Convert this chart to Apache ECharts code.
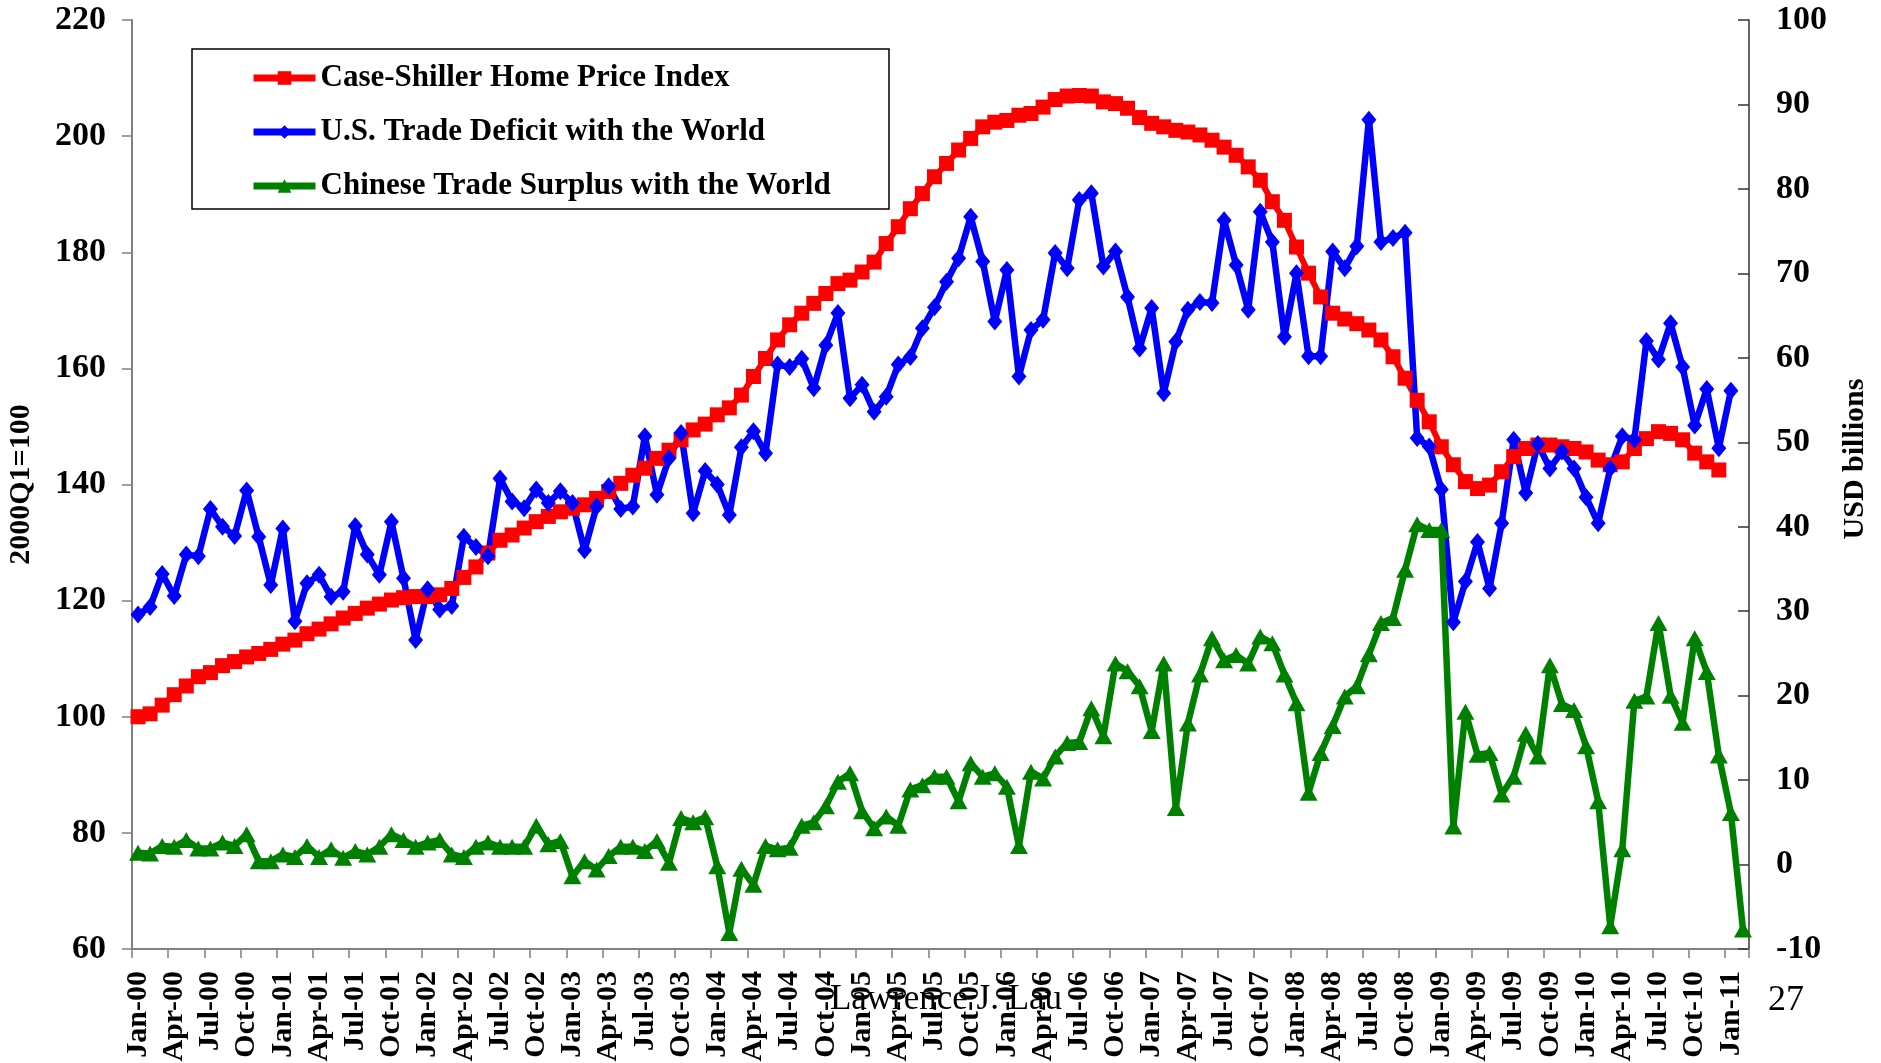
<!DOCTYPE html>
<html>
<head>
<meta charset="utf-8">
<title>Case-Shiller vs Trade Balances</title>
<script src="https://cdn.jsdelivr.net/npm/echarts@6/dist/echarts.min.js"></script>
<style>
  html, body { margin: 0; padding: 0; background: #fff; }
  #chart { width: 1881px; height: 1063px; }
</style>
</head>
<body>
<div id="chart"></div>
<script>
// monthly categories, Jan-00 .. Feb-11
var categories = [
  'Jan-00','Feb-00','Mar-00','Apr-00','May-00','Jun-00','Jul-00','Aug-00','Sep-00','Oct-00','Nov-00','Dec-00',
  'Jan-01','Feb-01','Mar-01','Apr-01','May-01','Jun-01','Jul-01','Aug-01','Sep-01','Oct-01','Nov-01','Dec-01',
  'Jan-02','Feb-02','Mar-02','Apr-02','May-02','Jun-02','Jul-02','Aug-02','Sep-02','Oct-02','Nov-02','Dec-02',
  'Jan-03','Feb-03','Mar-03','Apr-03','May-03','Jun-03','Jul-03','Aug-03','Sep-03','Oct-03','Nov-03','Dec-03',
  'Jan-04','Feb-04','Mar-04','Apr-04','May-04','Jun-04','Jul-04','Aug-04','Sep-04','Oct-04','Nov-04','Dec-04',
  'Jan-05','Feb-05','Mar-05','Apr-05','May-05','Jun-05','Jul-05','Aug-05','Sep-05','Oct-05','Nov-05','Dec-05',
  'Jan-06','Feb-06','Mar-06','Apr-06','May-06','Jun-06','Jul-06','Aug-06','Sep-06','Oct-06','Nov-06','Dec-06',
  'Jan-07','Feb-07','Mar-07','Apr-07','May-07','Jun-07','Jul-07','Aug-07','Sep-07','Oct-07','Nov-07','Dec-07',
  'Jan-08','Feb-08','Mar-08','Apr-08','May-08','Jun-08','Jul-08','Aug-08','Sep-08','Oct-08','Nov-08','Dec-08',
  'Jan-09','Feb-09','Mar-09','Apr-09','May-09','Jun-09','Jul-09','Aug-09','Sep-09','Oct-09','Nov-09','Dec-09',
  'Jan-10','Feb-10','Mar-10','Apr-10','May-10','Jun-10','Jul-10','Aug-10','Sep-10','Oct-10','Nov-10','Dec-10',
  'Jan-11','Feb-11'
];

// Case-Shiller home price index, 2000Q1=100 (left axis), Jan-00 .. Dec-10
var caseShiller = [
  100.0, 100.5, 102.0, 103.8, 105.3, 106.9, 107.6, 108.8, 109.5, 110.3, 110.9, 111.6,
  112.5, 113.2, 114.3, 115.1, 116.0, 117.0, 117.8, 118.7, 119.4, 120.1, 120.5, 120.7,
  120.7, 121.0, 122.1, 124.0, 125.8, 128.2, 130.4, 131.3, 132.5, 133.6, 134.5, 135.3,
  135.9, 136.5, 137.6, 138.8, 140.2, 141.6, 142.8, 144.5, 145.9, 147.7, 149.4, 150.4,
  152.0, 153.2, 155.4, 158.6, 161.7, 164.9, 167.5, 169.5, 171.2, 172.9, 174.6, 175.2,
  176.6, 178.3, 181.5, 184.4, 187.5, 190.1, 193.0, 195.3, 197.6, 199.6, 201.6, 202.4,
  202.7, 203.6, 203.9, 205.0, 206.3, 206.9, 207.0, 206.9, 205.9, 205.6, 204.8, 203.2,
  202.2, 201.6, 201.0, 200.7, 200.2, 199.3, 198.1, 196.7, 194.7, 192.4, 188.7, 185.5,
  180.9, 176.4, 172.3, 169.5, 168.5, 167.7, 166.6, 164.9, 162.0, 158.3, 154.5, 150.8,
  146.5, 143.4, 140.5, 139.3, 139.9, 142.2, 144.8, 146.2, 146.8, 146.8, 146.5, 146.2,
  145.6, 144.2, 143.4, 143.9, 146.2, 147.9, 149.1, 148.8, 147.7, 145.4, 143.9, 142.5
];

// U.S. trade deficit with the world, USD billions (right axis), Jan-00 .. Jan-11
var usDeficit = [
  29.6, 30.5, 34.4, 31.8, 36.7, 36.5, 42.1, 40.0, 38.9, 44.3, 38.8, 33.1,
  39.8, 28.8, 33.3, 34.3, 31.7, 32.3, 40.1, 36.7, 34.3, 40.6, 33.9, 26.6,
  32.6, 30.2, 30.6, 38.8, 37.6, 36.5, 45.7, 43.0, 42.2, 44.4, 42.8, 44.2,
  42.8, 37.2, 42.4, 44.8, 42.1, 42.4, 50.7, 43.8, 48.1, 51.1, 41.6, 46.6,
  45.0, 41.4, 49.4, 51.3, 48.7, 59.2, 58.9, 59.9, 56.4, 61.5, 65.3, 55.2,
  56.8, 53.6, 55.4, 59.2, 60.1, 63.5, 66.0, 69.0, 71.8, 76.7, 71.4, 64.3,
  70.4, 57.8, 63.3, 64.5, 72.4, 70.6, 78.7, 79.5, 70.8, 72.6, 67.2, 61.1,
  65.9, 55.8, 61.9, 65.7, 66.6, 66.5, 76.3, 71.0, 65.7, 77.3, 73.7, 62.5,
  70.0, 60.2, 60.2, 72.6, 70.6, 73.2, 88.2, 73.7, 74.2, 74.8, 50.5, 49.5,
  44.4, 28.7, 33.5, 38.2, 32.7, 40.4, 50.3, 44.0, 49.8, 46.9, 48.9, 46.9,
  43.5, 40.4, 46.9, 50.7, 50.3, 62.0, 59.8, 64.1, 58.9, 52.0, 56.3, 49.3,
  56.1
];

// Chinese trade surplus with the world, USD billions (right axis), Jan-00 .. Feb-11
var chinaSurplus = [
  1.4, 1.3, 2.2, 2.1, 2.9, 1.9, 1.9, 2.6, 2.2, 3.6, 0.4, 0.4,
  1.2, 0.9, 2.2, 0.9, 1.8, 0.8, 1.6, 1.2, 2.1, 3.6, 2.9, 2.1,
  2.6, 2.9, 1.2, 0.9, 2.1, 2.6, 2.1, 2.1, 2.1, 4.6, 2.4, 2.8,
  -1.4, 0.4, -0.6, 1.0, 2.1, 2.1, 1.6, 2.8, 0.2, 5.5, 5.0, 5.6,
  -0.2, -8.1, -0.5, -2.4, 2.2, 1.8, 2.0, 4.6, 5.0, 6.9, 9.8, 10.8,
  6.3, 4.3, 5.7, 4.6, 8.9, 9.4, 10.4, 10.4, 7.5, 12.0, 10.4, 10.8,
  9.2, 2.2, 11.0, 10.2, 12.8, 14.4, 14.5, 18.5, 15.2, 23.8, 22.9, 21.1,
  15.8, 23.8, 6.7, 16.7, 22.5, 26.8, 24.2, 24.8, 23.8, 27.0, 26.2, 22.5,
  19.1, 8.5, 13.2, 16.4, 19.9, 21.1, 24.9, 28.6, 29.2, 34.9, 40.3, 39.6,
  39.6, 4.5, 18.1, 13.0, 13.2, 8.3, 10.4, 15.5, 12.8, 23.6, 19.0, 18.3,
  14.0, 7.5, -7.3, 1.8, 19.4, 19.9, 28.6, 20.0, 16.8, 26.8, 22.8, 12.9,
  6.1, -7.7
];

var serif = 'Liberation Serif, Times New Roman, serif';

var chart = echarts.init(document.getElementById('chart'));

var option = {
  animation: false,
  backgroundColor: '#ffffff',
  textStyle: { fontFamily: serif },
  grid: { left: 132, right: 132, top: 20, bottom: 114, containLabel: false, outerBoundsMode: 'none' },
  legend: {
    orient: 'vertical',
    left: 250,
    top: 62,
    padding: 0,
    itemWidth: 62,
    itemHeight: 17,
    itemGap: 22,
    data: ['Case-Shiller Home Price Index', 'U.S. Trade Deficit with the World', 'Chinese Trade Surplus with the World'],
    lineStyle: { width: 7 },
    textStyle: { fontFamily: serif, fontWeight: 'bold', fontSize: 31, lineHeight: 32, color: '#000' }
  },
  xAxis: {
    type: 'category',
    data: categories,
    boundaryGap: true,
    axisLine: { onZero: false, lineStyle: { color: '#808080', width: 2 } },
    axisTick: { show: true, interval: 2, length: 9, lineStyle: { color: '#808080', width: 1.5 } },
    axisLabel: {
      interval: 2, rotate: 90, margin: 22,
      fontFamily: serif, fontWeight: 'bold', fontSize: 30, color: '#000'
    },
    splitLine: { show: false }
  },
  yAxis: [
    {
      type: 'value', position: 'left',
      min: 60, max: 220, interval: 20,
      name: '2000Q1=100', nameLocation: 'middle', nameRotate: 90, nameGap: 96,
      nameTextStyle: { fontFamily: serif, fontWeight: 'bold', fontSize: 30, color: '#000' },
      axisLine: { show: true, lineStyle: { color: '#808080', width: 2 } },
      axisTick: { show: true, length: 10, lineStyle: { color: '#808080', width: 1.5 } },
      axisLabel: { margin: 26, fontFamily: serif, fontWeight: 'bold', fontSize: 34, color: '#000' },
      splitLine: { show: false }
    },
    {
      type: 'value', position: 'right',
      min: -10, max: 100, interval: 10,
      axisLine: { show: true, lineStyle: { color: '#333333', width: 1.5 } },
      axisTick: { show: true, inside: true, length: 11, lineStyle: { color: '#333333', width: 1.5 } },
      axisLabel: { margin: 27, fontFamily: serif, fontWeight: 'bold', fontSize: 34, color: '#000' },
      splitLine: { show: false }
    }
  ],
  series: [
    {
      name: 'Case-Shiller Home Price Index',
      type: 'line', yAxisIndex: 0,
      data: caseShiller,
      showAllSymbol: true,
      symbol: 'rect', symbolSize: 15,
      color: '#ff0000',
      itemStyle: { color: '#ff0000' },
      lineStyle: { color: '#ff0000', width: 6 }
    },
    {
      name: 'U.S. Trade Deficit with the World',
      type: 'line', yAxisIndex: 1,
      data: usDeficit,
      showAllSymbol: true,
      symbol: 'diamond', symbolSize: [15, 18],
      color: '#0000ff',
      itemStyle: { color: '#0000ff' },
      lineStyle: { color: '#0000ff', width: 6.5 }
    },
    {
      name: 'Chinese Trade Surplus with the World',
      type: 'line', yAxisIndex: 1,
      data: chinaSurplus,
      showAllSymbol: true,
      symbol: 'triangle', symbolSize: [18, 16],
      color: '#008000',
      itemStyle: { color: '#008000' },
      lineStyle: { color: '#008000', width: 6.5 }
    }
  ],
  graphic: [
    {
      type: 'rect', z: 0,
      shape: { x: 192, y: 49, width: 697, height: 160 },
      style: { fill: 'none', stroke: '#000', lineWidth: 1.5 }
    },
    {
      type: 'text', x: 1855, y: 459, rotation: Math.PI / 2, z: 10,
      style: { text: 'USD billions', align: 'center', verticalAlign: 'middle', font: 'bold 30px Liberation Serif', fill: '#000' }
    },
    {
      type: 'text', x: 946, y: 1000, z: 10,
      style: { text: 'Lawrence J. Lau', align: 'center', verticalAlign: 'middle', font: '35px Liberation Serif', fill: '#000' }
    },
    {
      type: 'text', x: 1786, y: 1001, z: 10,
      style: { text: '27', align: 'center', verticalAlign: 'middle', font: '36px Liberation Serif', fill: '#000' }
    }
  ]
};

chart.setOption(option);
window.onresize = chart.resize;
</script>
</body>
</html>
